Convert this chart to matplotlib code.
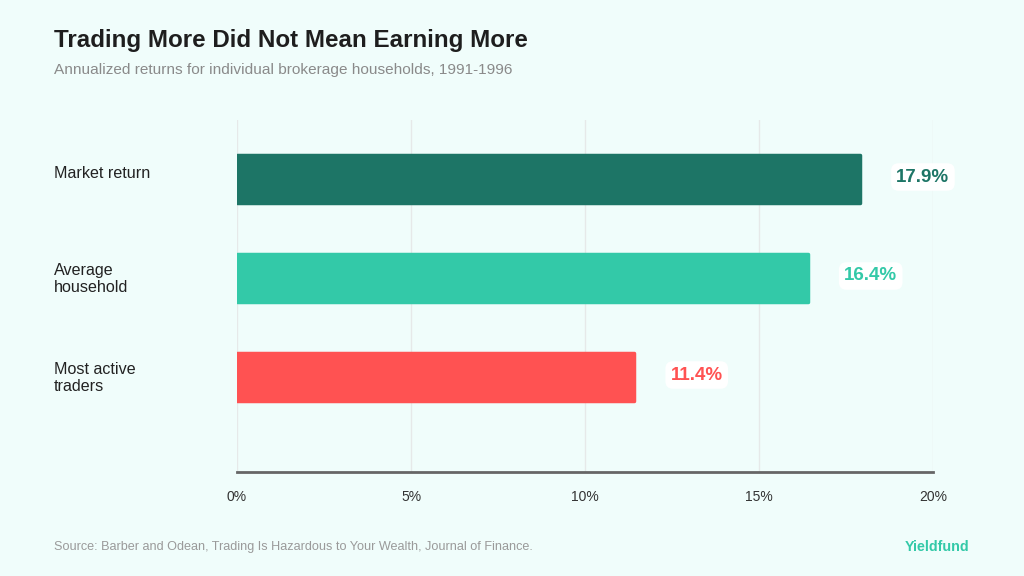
import matplotlib
matplotlib.use("Agg")
import matplotlib.pyplot as plt
from matplotlib.ticker import FuncFormatter

categories = ["Market return", "Average\nhousehold", "Most active\ntraders"]
returns = [17.9, 16.4, 11.4]
bar_colors = ["#1d7566", "#33c9a8", "#ff5252"]
xticks = [0, 5, 10, 15, 20]

title = "Trading More Did Not Mean Earning More"
subtitle = "Annualized returns for individual brokerage households, 1991-1996"
source = "Source: Barber and Odean, Trading Is Hazardous to Your Wealth, Journal of Finance."
brand = "Yieldfund"

bg = "#f0fdfb"
plt.rcParams['font.family'] = ['Liberation Sans', 'DejaVu Sans']

fig = plt.figure(figsize=(10.24, 5.76), dpi=100, facecolor=bg)
W, H = 1024, 576
x0, x1 = 237, 933
ytop, ybot = 120, 472
ax = fig.add_axes([x0 / W, 1 - ybot / H, (x1 - x0) / W, (ybot - ytop) / H])
ax.set_facecolor(bg)

ypos = list(range(len(categories)))
bars = ax.barh(ypos, returns, height=0.49, color=bar_colors,
               edgecolor=bar_colors, linewidth=2.5, zorder=3)
for b in bars:
    b.set_joinstyle('round')

ax.set_xlim(0, 20)
ax.set_ylim(2 + 95 / 99, -59 / 99)
ax.set_xticks(xticks)
ax.xaxis.set_major_formatter(FuncFormatter(lambda v, p: f"{v:.0f}%"))
ax.tick_params(axis='x', length=0, pad=13, labelsize=10, labelcolor="#333333")
ax.set_yticks([])
ax.grid(axis='x', color="#e6e9e9", linewidth=1, zorder=0)
for s in ["top", "right", "left"]:
    ax.spines[s].set_visible(False)
ax.spines["bottom"].set_color("#666666")
ax.spines["bottom"].set_linewidth(2)
ax.spines["bottom"].set_zorder(4)

# value labels
for y, v, c in zip(ypos, returns, bar_colors):
    ax.annotate(f"{v:.1f}%", xy=(v, y), xytext=(63, 2), textcoords="offset pixels",
                ha="center", va="center", fontsize=13.5, fontweight="bold", color=c,
                bbox=dict(boxstyle="round,pad=0.28,rounding_size=0.4", fc="white", ec="none"),
                zorder=5)

# category labels
for y, lab in zip(ypos, categories):
    ax.annotate(lab, xy=(0, y), xycoords=("figure pixels", "data"),
                xytext=(54, 6 if "\n" not in lab else -1), textcoords=("figure pixels", "offset pixels"),
                ha="left", va="center", fontsize=11.6, color="#222222", linespacing=1.12)

fig.text(54 / W, 1 - 41 / H, title, fontsize=17.4, fontweight="bold", color="#1e1e1e",
         ha="left", va="center")
fig.text(54 / W, 1 - 70 / H, subtitle, fontsize=11.1, color="#8a8a8a", ha="left", va="center")
fig.text(54 / W, 1 - 547 / H, source, fontsize=9.1, color="#9a9a9a", ha="left", va="center")
fig.text(969 / W, 1 - 547 / H, brand, fontsize=10.3, fontweight="bold", color="#33c9a8",
         ha="right", va="center")

fig.savefig("out.png", dpi=100, facecolor=bg)
